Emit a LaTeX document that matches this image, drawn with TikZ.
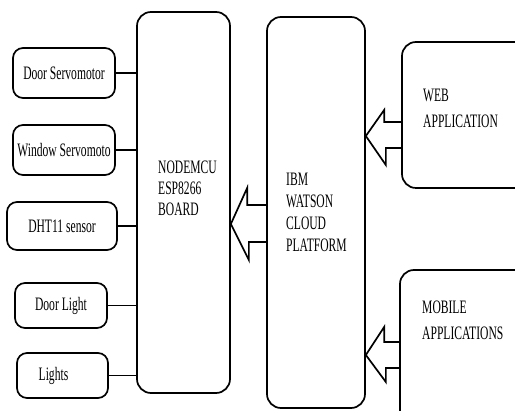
\documentclass[tikz,border=0pt]{standalone}
\usepackage{fontspec}
\setmainfont[FakeStretch=0.61]{Liberation Serif}
\begin{document}
\begin{tikzpicture}[x=1pt,y=-1pt,
  smallbox/.style={draw,line width=1.7pt,rounded corners=10pt,inner sep=0pt,
    font=\fontsize{19}{22}\selectfont},
  bigbox/.style={draw,line width=1.7pt,rounded corners=14pt,inner sep=0pt},
  txt/.style={anchor=west,inner sep=0pt,align=left},
  conn/.style={line width=1.7pt},
  blockarr/.style={line width=1.7pt,line join=miter}]
\useasboundingbox (0,0) rectangle (515,411);
\clip (0,0) rectangle (515,411);
% left boxes
\node[smallbox,minimum width=102pt,minimum height=50pt] (ds) at (64,73) {Door Servomotor};
\node[smallbox,minimum width=102pt,minimum height=50pt] (ws) at (64,150) {Window Servomoto};
\node[smallbox,minimum width=110pt,minimum height=48pt] (dht) at (62,226) {DHT11 sensor};
\node[smallbox,minimum width=92pt,minimum height=45pt] (dl) at (61,305.5) {Door Light};
\node[smallbox,minimum width=91pt,minimum height=45pt] (li) at (62.5,375.5) {Lights\kern18pt};
% big boxes
\node[bigbox,minimum width=93pt,minimum height=381pt] (mcu) at (183.5,202.5) {};
\node[bigbox,minimum width=98pt,minimum height=391pt] (ibm) at (316,212.5) {};
\node[bigbox,minimum width=158pt,minimum height=146pt] (web) at (481,115) {};
\node[bigbox,minimum width=160pt,minimum height=190pt] (mob) at (480,365) {};
% texts
\node[txt,font=\fontsize{19}{21}\selectfont] (mcut) at (158,188) {NODEMCU\\ESP8266\\BOARD};
\node[txt,font=\fontsize{19}{22}\selectfont] (ibmt) at (286,212) {IBM\\WATSON\\CLOUD\\PLATFORM};
\node[txt,font=\fontsize{19}{26}\selectfont] (webt) at (423,108) {WEB\\APPLICATION};
\node[txt,font=\fontsize{19}{26}\selectfont] (mobt) at (422,320) {MOBILE\\APPLICATIONS};
% connectors
\foreach \n in {ds,ws,dht,dl,li}
  \draw[conn] (\n.east) -- (\n.east -| mcu.west);
% block arrows
\draw[blockarr] (ibm.west |- 0,205) -- ++(-19,0) -- ++(0,-17) -- (mcu.east |- 0,224)
  -- ++(18,36) -- ++(0,-18) -- (ibm.west |- 0,242);
\draw[blockarr] (web.west |- 0,122) -- ++(-17,0) -- ++(0,-12) -- (ibm.east |- 0,136)
  -- ++(20,29) -- ++(0,-17) -- (web.west |- 0,148);
\draw[blockarr] (mob.west |- 0,342) -- ++(-15,0) -- ++(0,-15) -- (ibm.east |- 0,355)
  -- ++(20,27) -- ++(0,-14) -- (mob.west |- 0,368);
\end{tikzpicture}
\end{document}
